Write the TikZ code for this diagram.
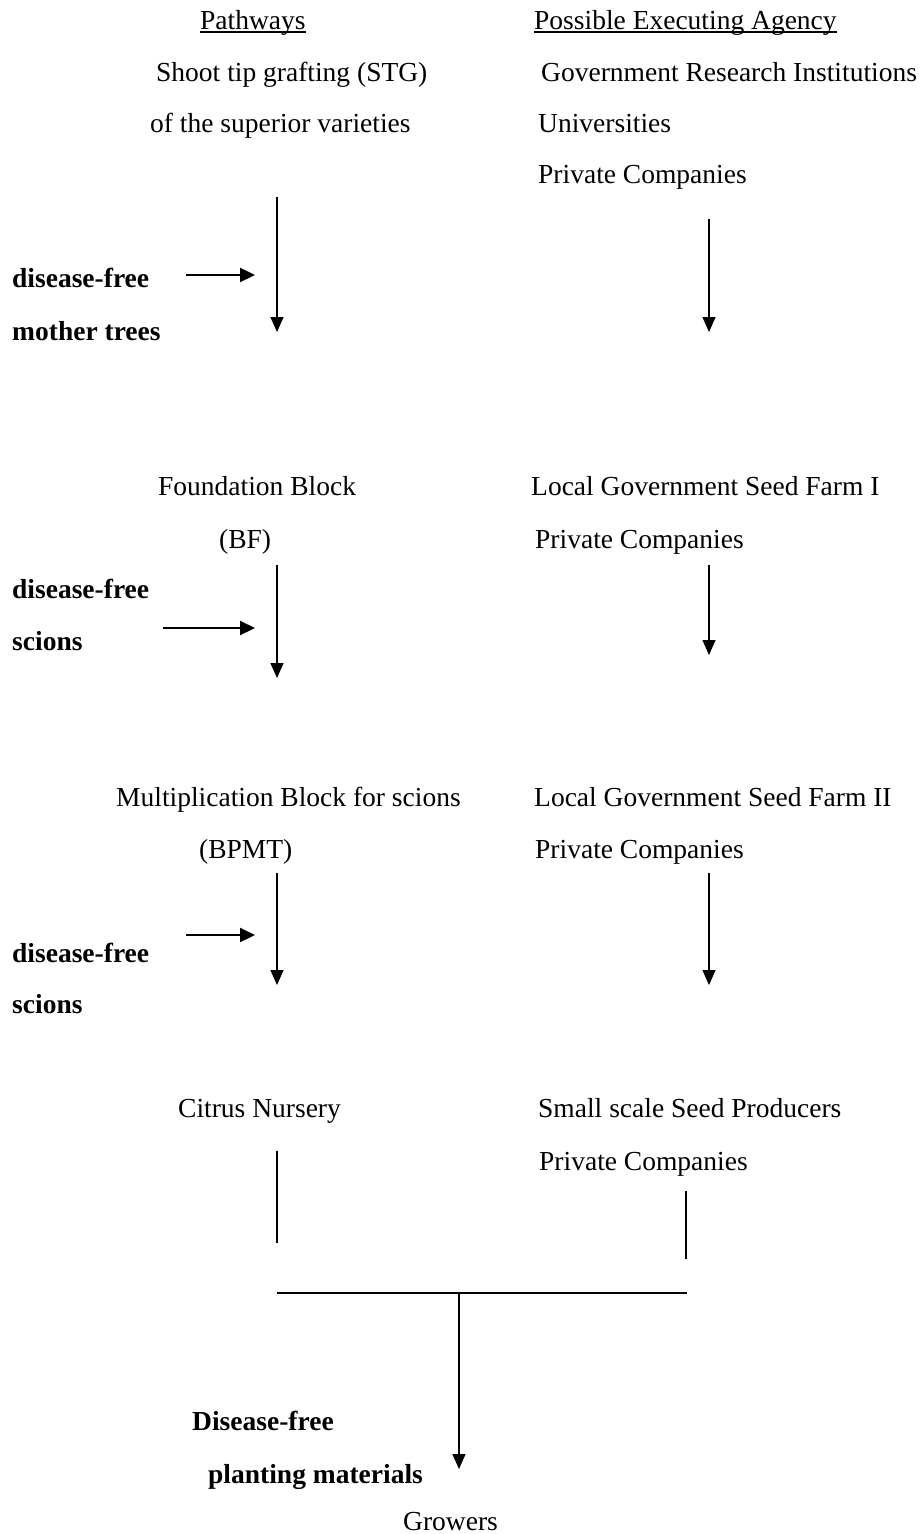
\documentclass[tikz,border=0pt]{standalone}
\usepackage{fontspec}
\setmainfont{Liberation Serif}
\usetikzlibrary{arrows.meta}
\begin{document}
\begin{tikzpicture}[x=1pt,y=-1pt,
  txt/.style={anchor=base west,inner sep=0pt,font=\fontsize{27.5}{33}\selectfont},
  btxt/.style={anchor=base west,inner sep=0pt,font=\fontsize{27.5}{33}\selectfont\bfseries},
  vline/.style={line width=1.3pt},
  varrow/.style={line width=1.3pt,-{Triangle[length=15pt,width=13pt]}},
  harrow/.style={line width=2.2pt,-{Triangle[length=15pt,width=14pt]}},
  uline/.style={line width=1.2pt}]
\useasboundingbox (0,0) rectangle (920,1534);

% headers
\node[txt] (path) at (200,29) {Pathways};
\draw[uline] ([yshift=-3pt]path.base west) -- ([yshift=-3pt]path.base east);
\node[txt] (pea) at (534,29) {Possible Executing Agency};
\draw[uline] ([yshift=-3pt]pea.base west) -- ([yshift=-3pt]pea.base east);

% level 1
\node[txt] (stg) at (156,81) {Shoot tip grafting (STG)};
\node[txt] (stgb) at (150,132) {of the superior varieties};
\node[txt] (gri) at (541,81) {Government Research Institutions};
\node[txt] (uni) at (538,132) {Universities};
\node[txt] (pca) at (538,183) {Private Companies};
\node[btxt] (dfa) at (12,287) {disease-free};
\node[btxt] (mta) at (12,340) {mother trees};
\coordinate (la1) at (277,197); \coordinate (la2) at (277,332);
\coordinate (ra1) at (709,219); \coordinate (ra2) at (709,332);
\coordinate (ha1) at (186,275); \coordinate (ha2) at (255,275);
\draw[varrow] (la1) -- (la2);
\draw[varrow] (ra1) -- (ra2);
\draw[harrow] (ha1) -- (ha2);

% level 2
\node[txt] (fb) at (158,495) {Foundation Block};
\node[txt] (bf) at (219,548) {(BF)};
\node[txt] (lga) at (531,495) {Local Government Seed Farm I};
\node[txt] (pcb) at (535,548) {Private Companies};
\node[btxt] (dfb) at (12,598) {disease-free};
\node[btxt] (scb) at (12,650) {scions};
\coordinate (lb1) at (277,565); \coordinate (lb2) at (277,678);
\coordinate (rb1) at (709,565); \coordinate (rb2) at (709,655);
\coordinate (hb1) at (163,628); \coordinate (hb2) at (255,628);
\draw[varrow] (lb1) -- (lb2);
\draw[varrow] (rb1) -- (rb2);
\draw[harrow] (hb1) -- (hb2);

% level 3
\node[txt] (mb) at (116,806) {Multiplication Block for scions};
\node[txt] (bpmt) at (199,858) {(BPMT)};
\node[txt] (lgb) at (534,806) {Local Government Seed Farm II};
\node[txt] (pcc) at (535,858) {Private Companies};
\node[btxt] (dfc) at (12,962) {disease-free};
\node[btxt] (scc) at (12,1013) {scions};
\coordinate (lc1) at (277,873); \coordinate (lc2) at (277,985);
\coordinate (rc1) at (709,873); \coordinate (rc2) at (709,985);
\coordinate (hc1) at (186,935); \coordinate (hc2) at (255,935);
\draw[varrow] (lc1) -- (lc2);
\draw[varrow] (rc1) -- (rc2);
\draw[harrow] (hc1) -- (hc2);

% level 4
\node[txt] (cn) at (178,1117) {Citrus Nursery};
\node[txt] (ssp) at (538,1117) {Small scale Seed Producers};
\node[txt] (pcd) at (539,1170) {Private Companies};
\coordinate (ld1) at (277,1151); \coordinate (ld2) at (277,1243);
\coordinate (rd1) at (686,1191); \coordinate (rd2) at (686,1259);
\coordinate (hl1) at (277,1293); \coordinate (hl2) at (687,1293);
\coordinate (jn) at (459,1293); \coordinate (gt) at (459,1469);
\draw[vline] (ld1) -- (ld2);
\draw[vline] (rd1) -- (rd2);
\draw[line width=1.8pt] (hl1) -- (hl2);
\draw[varrow] (jn) -- (gt);

\node[btxt] (dfd) at (192,1430) {Disease-free};
\node[btxt] (pm) at (208,1483) {planting materials};
\node[txt] (gr) at (403,1530) {Growers};
\end{tikzpicture}
\end{document}
